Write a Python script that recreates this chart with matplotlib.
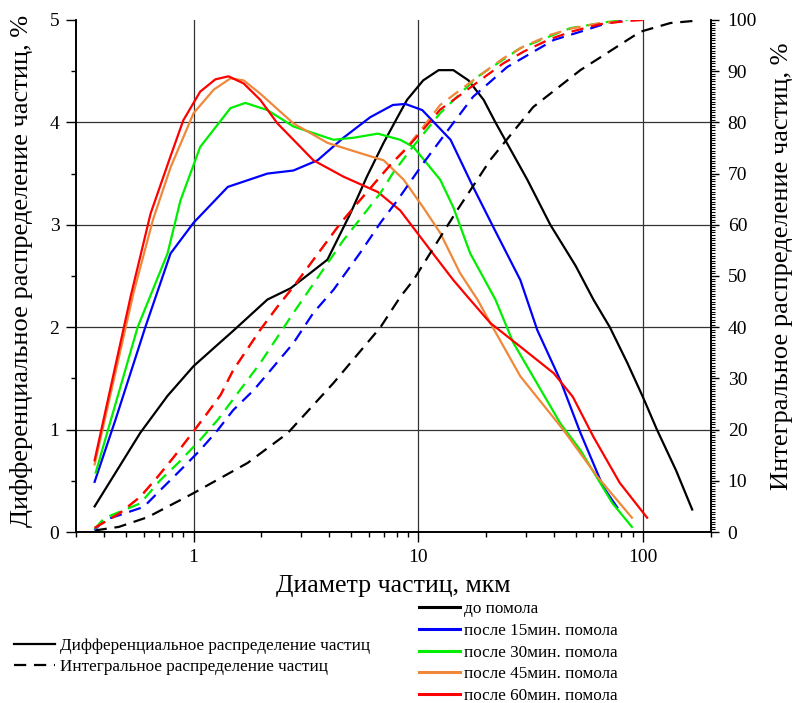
import numpy as np
import matplotlib
matplotlib.use('Agg')
import matplotlib.pyplot as plt
from matplotlib.lines import Line2D
from matplotlib.ticker import MultipleLocator, NullFormatter, LogLocator

plt.rcParams['font.family'] = ['Liberation Serif', 'DejaVu Serif']

# --- дифференциальное распределение (левая ось, %) ---
d0_x = [0.363, 0.45, 0.58, 0.766, 1.0, 1.25, 1.51, 2.13, 2.70, 3.4, 3.94, 4.98, 5.9, 7.0,
        8.07, 8.9, 10.5, 12.3, 14.3, 16.7, 19.5, 22, 30.5, 38.6, 50, 60, 71, 85, 100,
        115, 140, 165]
d0_y = [0.25, 0.58, 0.97, 1.33, 1.62, 1.81, 1.97, 2.27, 2.38, 2.55, 2.66, 3.11, 3.47, 3.8,
        4.05, 4.22, 4.41, 4.51, 4.51, 4.41, 4.22, 4.0, 3.44, 3.0, 2.6, 2.27, 2.0, 1.65,
        1.31, 1.0, 0.6, 0.22]

d15_x = [0.363, 0.45, 0.61, 0.79, 1.0, 1.42, 2.13, 2.78, 3.56, 4.64, 6.1, 7.7, 8.75, 10.4,
         13.9, 17.5, 21.5, 28.4, 33.8, 42.8, 52.5, 66.4, 76.6]
d15_y = [0.49, 1.1, 2.0, 2.72, 3.02, 3.37, 3.5, 3.53, 3.63, 3.85, 4.05, 4.17, 4.18, 4.12,
         3.83, 3.37, 2.98, 2.46, 1.97, 1.48, 0.97, 0.44, 0.24]

d30_x = [0.367, 0.564, 0.766, 0.875, 1.07, 1.46, 1.70, 2.13, 2.78, 4.19, 5.15, 6.6, 8.3,
         9.5, 12.5, 14.3, 17.0, 22, 26.4, 42.8, 52.5, 73, 89]
d30_y = [0.58, 2.0, 2.72, 3.24, 3.76, 4.14, 4.19, 4.12, 3.96, 3.83, 3.85, 3.89, 3.83,
         3.76, 3.44, 3.17, 2.72, 2.27, 1.85, 1.06, 0.8, 0.28, 0.05]

d45_x = [0.363, 0.54, 0.66, 0.79, 1.0, 1.23, 1.46, 1.67, 1.98, 2.78, 3.94, 5.5, 7.0, 8.6,
         10.5, 12.5, 15.3, 18.3, 20.9, 28.4, 44, 62.5, 89]
d45_y = [0.66, 2.33, 3.05, 3.56, 4.09, 4.32, 4.43, 4.41, 4.28, 3.99, 3.8, 3.70, 3.63, 3.44,
         3.17, 2.92, 2.53, 2.27, 2.04, 1.52, 1.0, 0.54, 0.14]

d60_x = [0.363, 0.525, 0.644, 0.79, 0.90, 1.07, 1.25, 1.43, 1.67, 1.98, 2.36, 2.78, 3.41,
         4.64, 6.6, 8.3, 11.6, 14.3, 16.5, 20.9, 28.4, 40, 48.6, 60, 78.6, 104]
d60_y = [0.70, 2.3, 3.11, 3.67, 4.02, 4.3, 4.42, 4.45, 4.38, 4.22, 3.99, 3.83, 3.63, 3.47,
         3.32, 3.14, 2.72, 2.46, 2.3, 2.04, 1.81, 1.55, 1.32, 0.93, 0.48, 0.14]

# --- интегральное распределение (правая ось, %) ---
i0_x = [0.363, 0.465, 0.625, 1.0, 1.74, 2.62, 4.19, 6.78, 8.3, 9.5, 11.3, 14.9, 20.9,
        32.4, 52.5, 97, 132, 166]
i0_y = [0.3, 1.0, 2.9, 7.6, 13.5, 19.3, 29.1, 40.0, 45.9, 49.2, 54.5, 62.9, 72.7,
        83, 90.2, 97.7, 99.4, 99.8]

i15_x = [0.363, 0.40, 0.60, 0.735, 0.875, 1.07, 1.28, 1.50, 1.85, 2.2, 2.78, 3.41, 4.19,
         5.5, 6.78, 8.07, 10.5, 14.3, 17.5, 24.8, 40, 52.5, 69, 85]
i15_y = [0.4, 2.3, 4.9, 8.8, 12.1, 16, 19.9, 23.8, 27.7, 31.6, 36.9, 42.8, 47.3,
         54.5, 60.4, 64.8, 72, 79.9, 85, 90.8, 96.1, 97.7, 99.4, 100]

i30_x = [0.363, 0.40, 0.58, 0.71, 0.85, 1.07, 1.28, 1.57, 1.98, 2.78, 4.64, 6.78, 7.7,
         9.2, 12.5, 18.3, 28.4, 47.4, 69, 85]
i30_y = [0.6, 2.7, 5.6, 10.1, 13.4, 18, 21.9, 27.1, 33, 42.8, 57, 66.2, 70.1,
         74.6, 81.8, 88.9, 94.5, 98.4, 99.6, 100]

i45_x = [0.363, 0.47, 0.58, 0.69, 0.815, 0.97, 1.15, 1.32, 1.50, 1.98, 2.36, 2.78, 4.5,
         5.35, 7.5, 8.9, 10.5, 12.5, 15.3, 18.9, 23.8, 29.3, 38.6, 48.6, 64.5, 85]
i45_y = [0.8, 3.7, 6.9, 10.7, 14.6, 18.9, 23.2, 26.8, 31.6, 39.5, 44, 47.9, 60.3,
         64.2, 71.7, 75.2, 79.1, 83.4, 86.3, 89.3, 92.5, 94.8, 97.1, 98.4, 99.4, 99.8]

i60_x = [0.363, 0.47, 0.58, 0.69, 0.815, 0.97, 1.15, 1.32, 1.50, 1.98, 2.36, 2.78, 4.5,
         5.35, 7.5, 8.9, 10.5, 12.5, 15.3, 18.9, 23.8, 29.3, 38.6, 48.6, 64.5, 85, 100]
i60_y = [0.8, 3.7, 6.9, 10.7, 14.6, 18.9, 23.2, 26.8, 31.6, 39.5, 44, 47.9, 60.3,
         64.2, 71.7, 75.0, 78.6, 82.5, 85.3, 88.3, 91.5, 93.8, 96.3, 97.8, 99.2, 99.8, 100]

labels = ['до помола', 'после 15мин. помола', 'после 30мин. помола',
          'после 45мин. помола', 'после 60мин. помола']
colors = ['black', '#0000FF', '#00EE00', '#F0883A', '#FF0000']

diff = [(d0_x, d0_y), (d15_x, d15_y), (d30_x, d30_y), (d45_x, d45_y), (d60_x, d60_y)]
integ = [(i0_x, i0_y), (i15_x, i15_y), (i30_x, i30_y), (i45_x, i45_y), (i60_x, i60_y)]

fig = plt.figure(figsize=(7.95, 7.03), dpi=100)
ax = fig.add_axes([0.0956, 0.2432, 0.7987, 0.7284])
ax2 = ax.twinx()

for (x, y), c in zip(diff, colors):
    ax.plot(x, y, color=c, lw=1.6)
for (x, y), c in zip(integ, colors):
    ax2.plot(x, y, color=c, lw=1.6, ls=(0, (5.5, 3.5)))

ax.set_xscale('log')
ax.set_xlim(0.3, 200)
ax.set_ylim(0, 5)
ax2.set_ylim(0, 100)

ax.set_xticks([1, 10, 100])
ax.set_xticklabels(['1', '10', '100'])
ax.xaxis.set_minor_locator(LogLocator(base=10, subs=np.arange(2, 10)))
ax.xaxis.set_minor_formatter(NullFormatter())
ax.set_yticks([0, 1, 2, 3, 4, 5])
ax.yaxis.set_minor_locator(MultipleLocator(0.5))
ax2.yaxis.set_major_locator(MultipleLocator(10))
ax2.yaxis.set_minor_locator(MultipleLocator(0.5))

ax.grid(which='major', color='#333333', lw=0.9)
ax.set_axisbelow(True)
# верхней рамки нет — линия сетки на 5 тоже не нужна
for gl, t in zip(ax.get_ygridlines(), ax.get_yticks()):
    if t == 5:
        gl.set_visible(False)

for a in (ax, ax2):
    a.spines['top'].set_visible(False)
    for s in a.spines.values():
        s.set_linewidth(1.2)
ax.tick_params(which='major', length=7, width=1, labelsize=14, pad=5)
ax.tick_params(which='minor', length=3.5, width=1)
ax2.tick_params(which='major', length=6, width=1, labelsize=14, pad=6)
ax2.tick_params(which='minor', length=3, width=0.8)

ax.set_xlabel('Диаметр частиц, мкм', fontsize=18.5)
ax.xaxis.set_label_coords(0.5, -0.083)
ax.set_ylabel('Дифференциальное распределение частиц, %', fontsize=19)
ax.yaxis.set_label_coords(-0.068, 0.51)
ax2.set_ylabel('Интегральное распределение частиц, %', fontsize=19, rotation=90)
ax2.yaxis.set_label_coords(1.094, 0.52)

# легенды
h_type = [Line2D([0], [0], color='black', lw=1.6),
          Line2D([0], [0], color='black', lw=1.6, ls=(0, (5.5, 3.5)))]
fig.legend(h_type, ['Дифференциальное распределение частиц',
                    'Интегральное распределение частиц'],
           loc='center left', bbox_to_anchor=(0.018, 0.066), frameon=False,
           fontsize=12.3, handlelength=2.4, handletextpad=0.25,
           labelspacing=0.3, borderpad=0, borderaxespad=0)
h_col = [Line2D([0], [0], color=c, lw=2.2) for c in colors]
fig.legend(h_col, labels, loc='center left', bbox_to_anchor=(0.527, 0.0718),
           frameon=False, fontsize=12.3, handlelength=2.4, handletextpad=0.25,
           labelspacing=0.33, borderpad=0, borderaxespad=0)

fig.savefig('out.png', dpi=100)
